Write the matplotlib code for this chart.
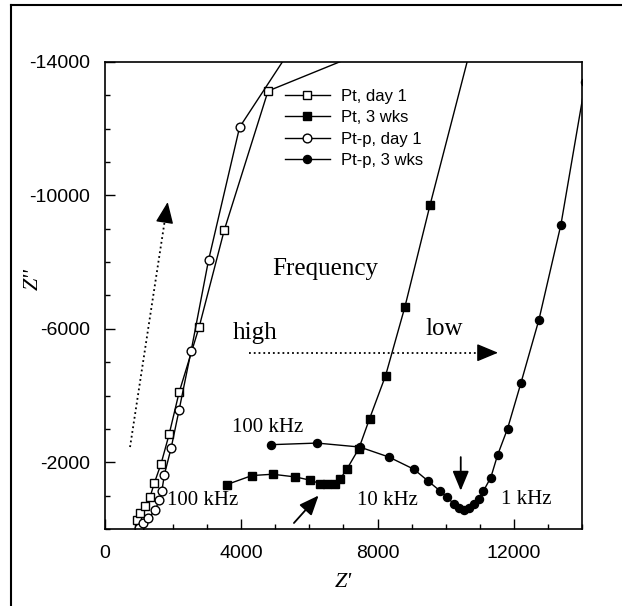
import matplotlib as mpl
mpl.use('Agg')
from matplotlib import pyplot as plt
from matplotlib.lines import Line2D

# Nyquist data (Z' , Z'')
pt_day1_x = [1000, 932, 1029, 1176, 1323, 1450, 1647, 1882, 2176, 2765, 3500, 4785, 9300]
pt_day1_y = [-50, -269, -469, -696, -964, -1382, -1961, -2836, -4098, -6060, -8955, -13125, -15000]

pt_3wk_x = [3579, 4314, 4920, 5588, 6029, 6300, 6530, 6750, 6911, 7108, 7450, 7764, 8235, 8802, 9538, 10882]
pt_3wk_y = [-1334, -1603, -1642, -1561, -1463, -1364, -1350, -1364, -1513, -1812, -2409, -3304, -4597, -6657, -9701, -15000]

ptp_day1_x = [1000, 1126, 1273, 1470, 1597, 1668, 1744, 1941, 2176, 2529, 3038, 3950, 5850]
ptp_day1_y = [-39, -170, -319, -567, -866, -1134, -1633, -2427, -3573, -5343, -8051, -12039, -15000]

ptp_3wk_x = [4882, 6226, 7479, 8332, 9067, 9479, 9832, 10049, 10244, 10391, 10538, 10685, 10832,
             10979, 11108, 11323, 11520, 11814, 12205, 12735, 13382, 14100]
ptp_3wk_y = [-2528, -2576, -2457, -2158, -1791, -1442, -1143, -946, -746, -618, -567, -618, -746,
             -896, -1143, -1543, -2209, -3006, -4367, -6269, -9125, -13400]

labels = ['Pt, day 1', 'Pt, 3 wks', 'Pt-p, day 1', 'Pt-p, 3 wks']

serif = 'Liberation Serif'
sans = 'Liberation Sans'
plt.rcParams['font.family'] = sans
plt.rcParams['axes.unicode_minus'] = False

fig = plt.figure(figsize=(6.22, 6.06), dpi=100)
ax = fig.add_axes([0.1688, 0.127, 0.7669, 0.771])

kw = dict(color='black', linewidth=1.0, clip_on=True)
ax.plot(pt_day1_x, pt_day1_y, marker='s', markersize=6.3, markerfacecolor='white',
        markeredgecolor='black', label=labels[0], **kw)
ax.plot(pt_3wk_x, pt_3wk_y, marker='s', markersize=5.5, markerfacecolor='black',
        markeredgecolor='black', label=labels[1], **kw)
ax.plot(ptp_day1_x, ptp_day1_y, marker='o', markersize=6.3, markerfacecolor='white',
        markeredgecolor='black', label=labels[2], **kw)
ax.plot(ptp_3wk_x, ptp_3wk_y, marker='o', markersize=5.8, markerfacecolor='black',
        markeredgecolor='black', label=labels[3], **kw)

ax.set_xlim(0, 14000)
ax.set_ylim(0, -14000)
ax.set_xticks([0, 4000, 8000, 12000])
ax.set_yticks([-14000, -10000, -6000, -2000])
ax.set_xticks(range(0, 14001, 1000), minor=True)
ax.set_yticks(range(-14000, 1, 1000), minor=True)
ax.tick_params(which='major', direction='in', length=7, width=1, labelsize=14)
ax.tick_params(axis='x', which='major', pad=11.5)
ax.tick_params(axis='y', which='major', pad=10.5)
ax.tick_params(which='minor', direction='in', length=3.5, width=1)
for s in ax.spines.values():
    s.set_linewidth(1.2)

ax.set_xlabel("Z'", fontfamily=serif, fontstyle='italic', fontsize=16)
ax.set_ylabel("Z''", fontfamily=serif, fontstyle='italic', fontsize=16)
ax.xaxis.set_label_coords(0.50, -0.095)
ax.yaxis.set_label_coords(-0.13, 0.535)

ax.legend(loc='upper left', bbox_to_anchor=(0.377, 0.942), frameon=False, fontsize=12,
          handlelength=2.7, handletextpad=0.65, labelspacing=0.38, borderpad=0,
          borderaxespad=0)

# annotations
tkw = dict(fontfamily=serif, va='center', ha='left')
ax.text(4912, -7791, 'Frequency', fontsize=18, **tkw)
ax.text(3735, -5880, 'high', fontsize=18, **tkw)
ax.text(9411, -6000, 'low', fontsize=18, **tkw)
ax.text(3726, -3054, '100 kHz', fontsize=15, **tkw)
ax.text(1815, -866, '100 kHz', fontsize=15, **tkw)
ax.text(7402, -866, '10 kHz', fontsize=15, **tkw)
ax.text(11617, -896, '1 kHz', fontsize=15, **tkw)

# dotted arrows
ax.plot([4216, 11000], [-5283, -5283], color='black', linestyle=':', linewidth=1.3)
ax.annotate('', xy=(11617, -5283), xytext=(10900, -5283),
            arrowprops=dict(arrowstyle='-|>,head_length=0.6,head_width=0.25', color='black',
                            mutation_scale=22, linewidth=1))
ax.plot([735, 1760], [-2457, -9280], color='black', linestyle=':', linewidth=1.3)
ax.annotate('', xy=(1853, -9880), xytext=(1740, -9130),
            arrowprops=dict(arrowstyle='-|>,head_length=0.6,head_width=0.25', color='black',
                            mutation_scale=22, linewidth=1))
# solid arrows
ax.annotate('', xy=(6323, -1066), xytext=(5491, -119),
            arrowprops=dict(arrowstyle='-|>,head_length=0.6,head_width=0.25', color='black',
                            mutation_scale=20, linewidth=1.3))
ax.annotate('', xy=(10441, -1066), xytext=(10441, -2239),
            arrowprops=dict(arrowstyle='-|>,head_length=0.6,head_width=0.25', color='black',
                            mutation_scale=20, linewidth=1.3))

# outer frame of the scanned page
fig.add_artist(Line2D([0.017, 0.017], [0.0, 0.991], color='black', linewidth=1.5))
fig.add_artist(Line2D([0.017, 1.0], [0.991, 0.991], color='black', linewidth=1.5))

fig.savefig('out.png', dpi=100)
